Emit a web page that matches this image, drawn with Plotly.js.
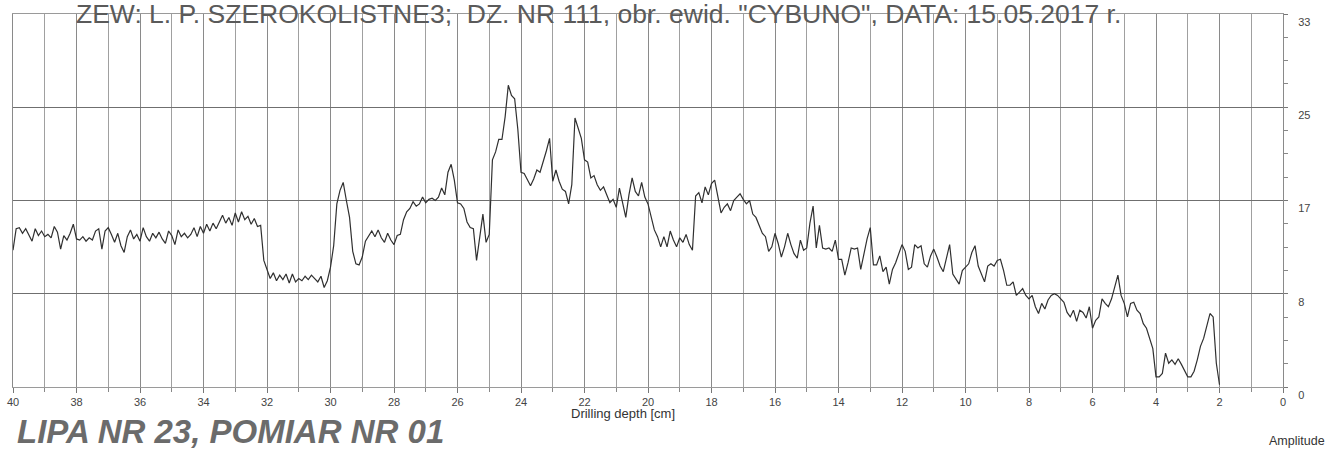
<!DOCTYPE html>
<html><head><meta charset="utf-8">
<script src="https://cdn.plot.ly/plotly-3.0.1.min.js"></script>
<style>html,body{margin:0;padding:0;background:#fff}#chart{width:1335px;height:450px}</style>
</head><body><div id="chart"></div>
<script>
// Drilling depth: first sample and spacing (cm)
const depthStart = 40;
const depthStep = -0.1;
// Amplitude, 40.0 cm down to 2.0 cm every 0.1 cm
const amplitude = [
12.1,14.0,14.1,13.6,14.0,13.5,12.9,14.0,13.4,13.8,
13.3,13.5,13.2,14.2,13.7,12.2,13.4,13.0,13.6,14.4,
13.1,13.0,13.3,12.9,13.2,13.0,13.8,14.0,12.2,13.8,
14.1,13.5,12.8,13.6,12.5,11.9,13.3,13.9,13.1,13.5,
12.9,14.1,13.3,12.9,13.6,13.2,13.7,13.1,12.7,13.8,
13.4,12.6,13.9,13.3,13.6,13.2,13.5,14.1,13.3,14.2,
13.6,14.4,13.8,14.5,14.0,14.6,15.2,14.5,15.0,14.3,
15.4,14.6,15.5,14.8,15.1,14.4,14.9,14.2,14.3,11.2,
10.3,9.6,10.1,9.4,9.9,9.5,10.0,9.2,10.0,9.3,
9.6,9.4,9.8,9.5,9.9,9.6,9.3,9.8,8.8,9.4,
10.6,12.5,16.2,17.4,18.1,16.5,15.0,12.0,10.9,10.8,
11.5,12.9,13.4,13.8,13.3,13.9,13.2,12.8,13.6,13.0,
12.6,13.4,13.5,14.8,15.5,15.8,16.4,16.0,16.2,16.8,
16.3,
16.6,16.7,16.5,16.8,17.6,17.0,19.0,19.7,18.3,16.3,
16.2,15.8,14.6,14.1,14.0,11.2,13.1,15.3,12.8,13.5,
20.1,20.8,21.9,21.9,23.9,26.7,25.8,25.5,22.8,19.0,
18.9,18.4,17.8,18.4,19.2,19.0,19.9,20.9,22.0,18.2,
19.2,18.2,17.5,17.3,16.2,17.9,23.8,22.9,22.0,20.1,
19.9,18.5,18.7,17.9,17.4,17.7,17.0,16.3,16.6,15.9,
17.6,16.4,15.0,17.0,18.5,17.3,16.9,18.1,16.8,16.2,
15.1,13.9,13.3,12.4,13.3,12.4,13.8,13.0,12.4,13.2,
12.8,13.5,12.6,12.1,16.9,17.2,16.3,17.7,17.0,18.0,
18.3,17.0,15.4,15.9,16.2,15.6,16.5,16.8,17.1,16.6,
16.2,16.5,15.3,15.0,14.2,13.6,13.3,12.0,12.4,13.6,
12.7,11.5,12.4,13.6,12.6,11.8,11.4,13.0,12.1,12.3,
14.5,16.0,12.3,14.3,12.3,12.2,12.3,12.0,13.0,11.3,
11.3,9.9,11.0,12.3,12.2,12.3,10.4,11.9,13.1,14.1,
10.8,10.8,11.6,10.2,10.6,9.1,10.4,11.0,11.9,12.6,
12.0,10.4,10.6,12.6,12.3,12.5,10.9,10.6,11.6,12.2,
11.5,10.7,10.2,11.5,12.6,10.0,9.6,9.1,10.3,10.6,
10.9,11.9,12.5,10.7,10.0,9.3,10.7,10.9,10.7,11.2,
11.3,10.3,9.0,9.0,9.3,8.1,8.4,8.7,8.1,7.8,
8.1,7.1,6.5,7.4,6.9,7.7,8.1,8.25,8.1,7.8,
7.5,6.6,6.2,6.8,5.8,6.8,6.6,6.1,7.1,5.2,
5.9,6.2,7.8,7.4,7.1,7.8,8.8,9.9,8.1,7.4,
6.2,7.4,7.5,6.8,6.5,5.6,5.2,4.3,3.4,0.9,
0.9,1.2,3.0,2.1,2.4,2.0,2.5,2.0,1.5,0.9,
0.9,1.4,2.4,3.6,4.3,5.3,6.5,6.2,2.1,0.2
];
const xTickVals = [40,38,36,34,32,30,28,26,24,22,20,18,16,14,12,10,8,6,4,2,0];
const yTickVals = [0, 8.25, 16.5, 24.75, 33];
const yTickText = ['0', '8', '17', '25', '33'];
const headerText = 'ZEW: L. P. SZEROKOLISTNE3;  DZ. NR 111, obr. ewid. "CYBUNO", DATA: 15.05.2017 r.';
const captionText = 'LIPA NR 23, POMIAR NR 01';
const xLabel = 'Drilling depth [cm]';
const yLabel = 'Amplitude';

const font = 'Liberation Sans, Arial, sans-serif';

const trace = {
  type: 'scatter', mode: 'lines',
  x0: depthStart, dx: depthStep, y: amplitude,
  line: {color: '#303030', width: 1.2},
  hoverinfo: 'skip'
};

const layout = {
  width: 1335, height: 450,
  margin: {l: 13, r: 52, t: 14, b: 63},
  paper_bgcolor: '#ffffff', plot_bgcolor: '#ffffff',
  showlegend: false,
  xaxis: {
    range: [40, 0], tickvals: xTickVals,
    showgrid: true, gridcolor: '#8a8a8a', gridwidth: 1,
    zeroline: false, showline: true, mirror: true, linecolor: '#9a9a9a', linewidth: 1,
    ticks: 'outside', ticklen: 5, tickcolor: '#777',
    tickfont: {family: font, size: 11, color: '#444'},
    minor: {dtick: 1, tick0: 0, showgrid: true, gridcolor: '#a0a0a0', ticks: 'outside', ticklen: 4, tickcolor: '#888'}
  },
  yaxis: {
    range: [0, 33], side: 'right',
    tickvals: yTickVals, ticktext: yTickText,
    showgrid: true, gridcolor: '#6f6f6f', gridwidth: 1,
    zeroline: false, showline: true, mirror: true, linecolor: '#8a8a8a', linewidth: 1,
    ticks: 'outside', ticklen: 4, tickcolor: '#777',
    ticklabelstandoff: 8, ticklabelshift: 8,
    tickfont: {family: font, size: 11, color: '#444'},
    minor: {dtick: 2.0625, tick0: 0, ticks: 'outside', ticklen: 4, tickcolor: '#888', showgrid: false}
  },
  annotations: [
    {text: headerText, xref: 'paper', yref: 'paper', x: 0.049, y: 1, xanchor: 'left', yanchor: 'bottom', yshift: -13,
     height: 24, borderpad: 0,
     showarrow: false, font: {family: font, size: 26.5, color: '#5a5a5a'}},
    {text: '<b><i>' + captionText + '</i></b>', xref: 'paper', yref: 'paper', x: 0.0016, y: -0.12, xanchor: 'left', yanchor: 'middle',
     showarrow: false, font: {family: font, size: 33, color: '#6b6b6b'}},
    {text: xLabel, xref: 'paper', yref: 'paper', x: 0.48, y: -0.072, xanchor: 'center', yanchor: 'middle',
     showarrow: false, font: {family: font, size: 13, color: '#333'}},
    {text: yLabel, xref: 'paper', yref: 'paper', x: 1.011, y: -0.145, xanchor: 'center', yanchor: 'middle',
     showarrow: false, font: {family: font, size: 12.5, color: '#333'}}
  ]
};

Plotly.newPlot('chart', [trace], layout, {displayModeBar: false, staticPlot: true});
</script>
</body></html>
